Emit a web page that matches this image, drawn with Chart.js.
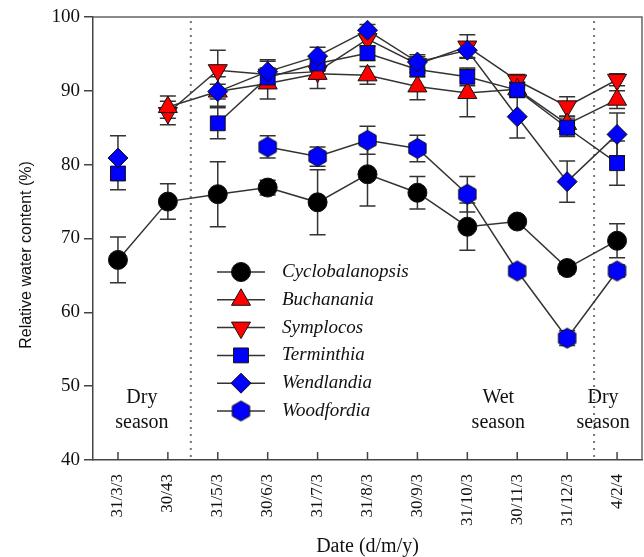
<!DOCTYPE html>
<html>
<head>
<meta charset="utf-8">
<script src="https://cdn.jsdelivr.net/npm/chart.js@4.4.1/dist/chart.umd.min.js"></script>
<style>
  html, body { margin: 0; padding: 0; background: #fff; }
  #wrap { width: 644px; height: 557px; }
</style>
</head>
<body>
<div id="wrap"><canvas id="chart" width="644" height="557"></canvas></div>
<script>
// dates as printed on the x axis
const fechas = ['31/3/3', '30/43', '31/5/3', '30/6/3', '31/7/3', '31/8/3', '30/9/3', '31/10/3', '30/11/3', '31/12/3', '4/2/4'];
const yTicks = [40, 50, 60, 70, 80, 90, 100];

// relative water content (%) per species, with +- error
const cyclobalanopsis    = [67.1, 75.0, 76.0, 76.9, 74.9, 78.7, 76.2, 71.6, 72.3, 66.0, 69.7];
const cyclobalanopsisErr = [3.1, 2.4, 4.4, 1.0, 4.4, 4.3, 2.2, 3.2, 0.5, 0.8, 2.3];
const buchanania         = [null, 87.8, 89.9, 91.0, 92.3, 92.1, 90.6, 89.7, 90.2, 85.5, 88.8];
const buchananiaErr      = [0, 1.5, 2.0, 2.1, 2.0, 1.2, 1.8, 3.2, 1.0, 1.0, 1.2];
const symplocos          = [null, 87.0, 92.8, 92.2, 92.6, 97.0, 93.6, 96.0, 91.4, 87.9, 91.5];
const symplocosErr       = [0, 1.6, 2.7, 1.8, 1.0, 1.0, 1.0, 1.6, 0.8, 1.3, 0.8];
const terminthia         = [78.8, null, 85.6, 91.8, 93.7, 95.1, 92.9, 91.9, 90.1, 85.0, 80.2];
const terminthiaErr      = [2.2, 0, 2.1, 1.0, 1.0, 1.0, 1.0, 1.2, 1.0, 1.2, 3.0];
const wendlandia         = [80.9, null, 89.9, 92.6, 94.7, 98.2, 93.9, 95.5, 86.5, 77.7, 84.1];
const wendlandiaErr      = [3.0, 0, 1.0, 1.6, 1.2, 0.8, 1.0, 1.0, 2.9, 2.8, 2.9];
const woodfordia         = [null, null, null, 82.4, 81.1, 83.3, 82.2, 76.0, 65.6, 56.5, 65.6];
const woodfordiaErr      = [0, 0, 0, 1.5, 1.3, 1.9, 1.8, 2.4, 0.5, 1.0, 0.8];

const SERIF = "'Liberation Serif', 'Times New Roman', serif";
const LINE = '#333';
const EDGE = '#111';
const RED = '#ff0000';
const BLUE = '#0000ff';

// hexagon marker for Woodfordia (no built-in style for it)
function hexagono(r, fill) {
  const c = document.createElement('canvas');
  const s = Math.ceil(r * 2 + 3);
  c.width = s; c.height = s;
  const g = c.getContext('2d');
  g.beginPath();
  for (let k = 0; k < 6; k++) {
    const a = -Math.PI / 2 + k * Math.PI / 3;
    const px = s / 2 + r * Math.cos(a), py = s / 2 + r * Math.sin(a);
    k ? g.lineTo(px, py) : g.moveTo(px, py);
  }
  g.closePath();
  g.fillStyle = fill; g.fill();
  g.lineWidth = 1; g.strokeStyle = EDGE; g.stroke();
  return c;
}
const hexImg = hexagono(10, BLUE);

// order: lower number is painted on top
const series = [
  { label: 'Cyclobalanopsis', data: cyclobalanopsis, err: cyclobalanopsisErr, color: '#000', style: 'circle', radius: 9.5, rot: 0, order: 5 },
  { label: 'Buchanania',      data: buchanania,      err: buchananiaErr,      color: RED,   style: 'triangle', radius: 11, rot: 0, order: 3 },
  { label: 'Symplocos',       data: symplocos,       err: symplocosErr,       color: RED,   style: 'triangle', radius: 11, rot: 180, order: 4 },
  { label: 'Terminthia',      data: terminthia,      err: terminthiaErr,      color: BLUE,  style: 'rect', radius: 10.5, rot: 0, order: 2 },
  { label: 'Wendlandia',      data: wendlandia,      err: wendlandiaErr,      color: BLUE,  style: 'rectRot', radius: 10, rot: 0, order: 0 },
  { label: 'Woodfordia',      data: woodfordia,      err: woodfordiaErr,      color: BLUE,  style: hexImg, radius: 10, rot: 0, order: 1 }
];

// draws error bars under the markers
const errorBars = {
  id: 'errorBars',
  beforeDatasetsDraw(chart) {
    const { ctx, scales: { x, y } } = chart;
    ctx.save();
    ctx.strokeStyle = LINE;
    ctx.lineWidth = 1.5;
    series.forEach(s => {
      s.data.forEach((v, i) => {
        if (v === null || !s.err[i]) return;
        const px = x.getPixelForValue(i);
        const top = y.getPixelForValue(v + s.err[i]);
        const bot = y.getPixelForValue(v - s.err[i]);
        ctx.beginPath();
        ctx.moveTo(px, top); ctx.lineTo(px, bot);
        ctx.moveTo(px - 8, top); ctx.lineTo(px + 8, top);
        ctx.moveTo(px - 8, bot); ctx.lineTo(px + 8, bot);
        ctx.stroke();
      });
    });
    ctx.restore();
  }
};

// frame, inward x ticks, season separators and labels
const decor = {
  id: 'decor',
  beforeDatasetsDraw(chart) {
    const { ctx, chartArea: a, scales: { x, y } } = chart;
    ctx.save();
    // top and right frame
    ctx.strokeStyle = '#666';
    ctx.lineWidth = 1.5;
    ctx.beginPath();
    ctx.moveTo(a.left, a.top); ctx.lineTo(a.right, a.top); ctx.lineTo(a.right, a.bottom);
    ctx.stroke();
    // inward ticks on x
    ctx.strokeStyle = '#444';
    fechas.forEach((_, i) => {
      const px = x.getPixelForValue(i);
      ctx.beginPath(); ctx.moveTo(px, a.bottom); ctx.lineTo(px, a.bottom - 8); ctx.stroke();
    });
    // dotted season limits
    ctx.strokeStyle = '#777';
    ctx.lineWidth = 2;
    ctx.setLineDash([2, 5]);
    [1.46, 9.54].forEach(v => {
      const px = x.getPixelForValue(v);
      ctx.beginPath(); ctx.moveTo(px, a.top + 4); ctx.lineTo(px, a.bottom - 2); ctx.stroke();
    });
    ctx.setLineDash([]);
    // season labels
    ctx.fillStyle = '#111';
    ctx.font = '20px ' + SERIF;
    ctx.textAlign = 'center';
    ctx.textBaseline = 'middle';
    [[0.48, 'Dry'], [7.62, 'Wet'], [9.72, 'Dry']].forEach(([v, t]) => {
      const px = x.getPixelForValue(v);
      ctx.fillText(t, px, y.getPixelForValue(48.4));
      ctx.fillText('season', px, y.getPixelForValue(45.0));
    });
    ctx.restore();
  },
  afterDraw(chart) {
    const { ctx, chartArea: a } = chart;
    ctx.save();
    // y title
    ctx.fillStyle = '#111';
    ctx.font = "16px 'Liberation Sans', Arial, sans-serif";
    ctx.textAlign = 'center';
    ctx.textBaseline = 'middle';
    ctx.translate(27, 255);
    ctx.rotate(-Math.PI / 2);
    ctx.fillText('Relative water content (%)', 0, 0);
    ctx.restore();

    // legend inside the plot
    ctx.save();
    const x0 = a.left + 124, y0 = 272;
    series.forEach((s, k) => {
      const ly = y0 + k * 27.8;
      ctx.strokeStyle = LINE;
      ctx.lineWidth = 1.5;
      ctx.beginPath(); ctx.moveTo(x0, ly); ctx.lineTo(x0 + 48, ly); ctx.stroke();
      ctx.fillStyle = s.color;
      ctx.strokeStyle = EDGE;
      ctx.lineWidth = 1;
      Chart.helpers.drawPoint(ctx, { pointStyle: s.style, rotation: s.rot, radius: s.radius, borderWidth: 1 }, x0 + 24, ly);
      ctx.fillStyle = '#111';
      ctx.font = 'italic 19px ' + SERIF;
      ctx.textAlign = 'left';
      ctx.textBaseline = 'middle';
      ctx.fillText(s.label, x0 + 65, ly);
    });
    ctx.restore();
  }
};

new Chart(document.getElementById('chart'), {
  type: 'line',
  data: {
    labels: fechas,
    datasets: series.map(s => ({
      label: s.label,
      data: s.data,
      order: s.order,
      borderColor: LINE,
      borderWidth: 1.5,
      backgroundColor: s.color,
      pointBackgroundColor: s.color,
      pointBorderColor: EDGE,
      pointBorderWidth: 1,
      pointStyle: s.style,
      pointRotation: s.rot,
      pointRadius: s.radius,
      pointHoverRadius: s.radius,
      spanGaps: false,
      tension: 0
    }))
  },
  options: {
    responsive: false,
    animation: false,
    layout: { autoPadding: false, padding: { top: 17, right: 2, left: 0, bottom: 0 } },
    plugins: {
      legend: { display: false },
      tooltip: { enabled: false }
    },
    scales: {
      x: {
        type: 'category',
        offset: true,
        grid: { drawOnChartArea: false, drawTicks: false },
        border: { color: '#444', width: 1.5 },
        ticks: {
          color: '#111',
          font: { family: SERIF, size: 17 },
          minRotation: 90,
          maxRotation: 90,
          padding: 14,
          autoSkip: false
        },
        title: {
          display: true,
          text: 'Date (d/m/y)',
          color: '#111',
          font: { family: SERIF, size: 20, lineHeight: 1 },
          padding: { top: 0, bottom: 0 }
        },
        afterFit(scale) {
          // rotated last label would otherwise eat the right margin
          scale.height = 97;
          scale.paddingLeft = 0;
          scale.paddingRight = 0;
        }
      },
      y: {
        min: 40,
        max: 100,
        afterBuildTicks(scale) { scale.ticks = yTicks.map(v => ({ value: v })); },
        grid: { drawOnChartArea: false, tickLength: 9, color: '#444', lineWidth: 1.5 },
        border: { color: '#444', width: 1.5 },
        ticks: {
          color: '#111',
          font: { family: SERIF, size: 19 },
          padding: 4
        },
        afterFit(scale) {
          scale.width = 93;
          scale.paddingTop = 0;
          scale.paddingBottom = 0;
        }
      }
    }
  },
  plugins: [decor, errorBars]
});
</script>
</body>
</html>
